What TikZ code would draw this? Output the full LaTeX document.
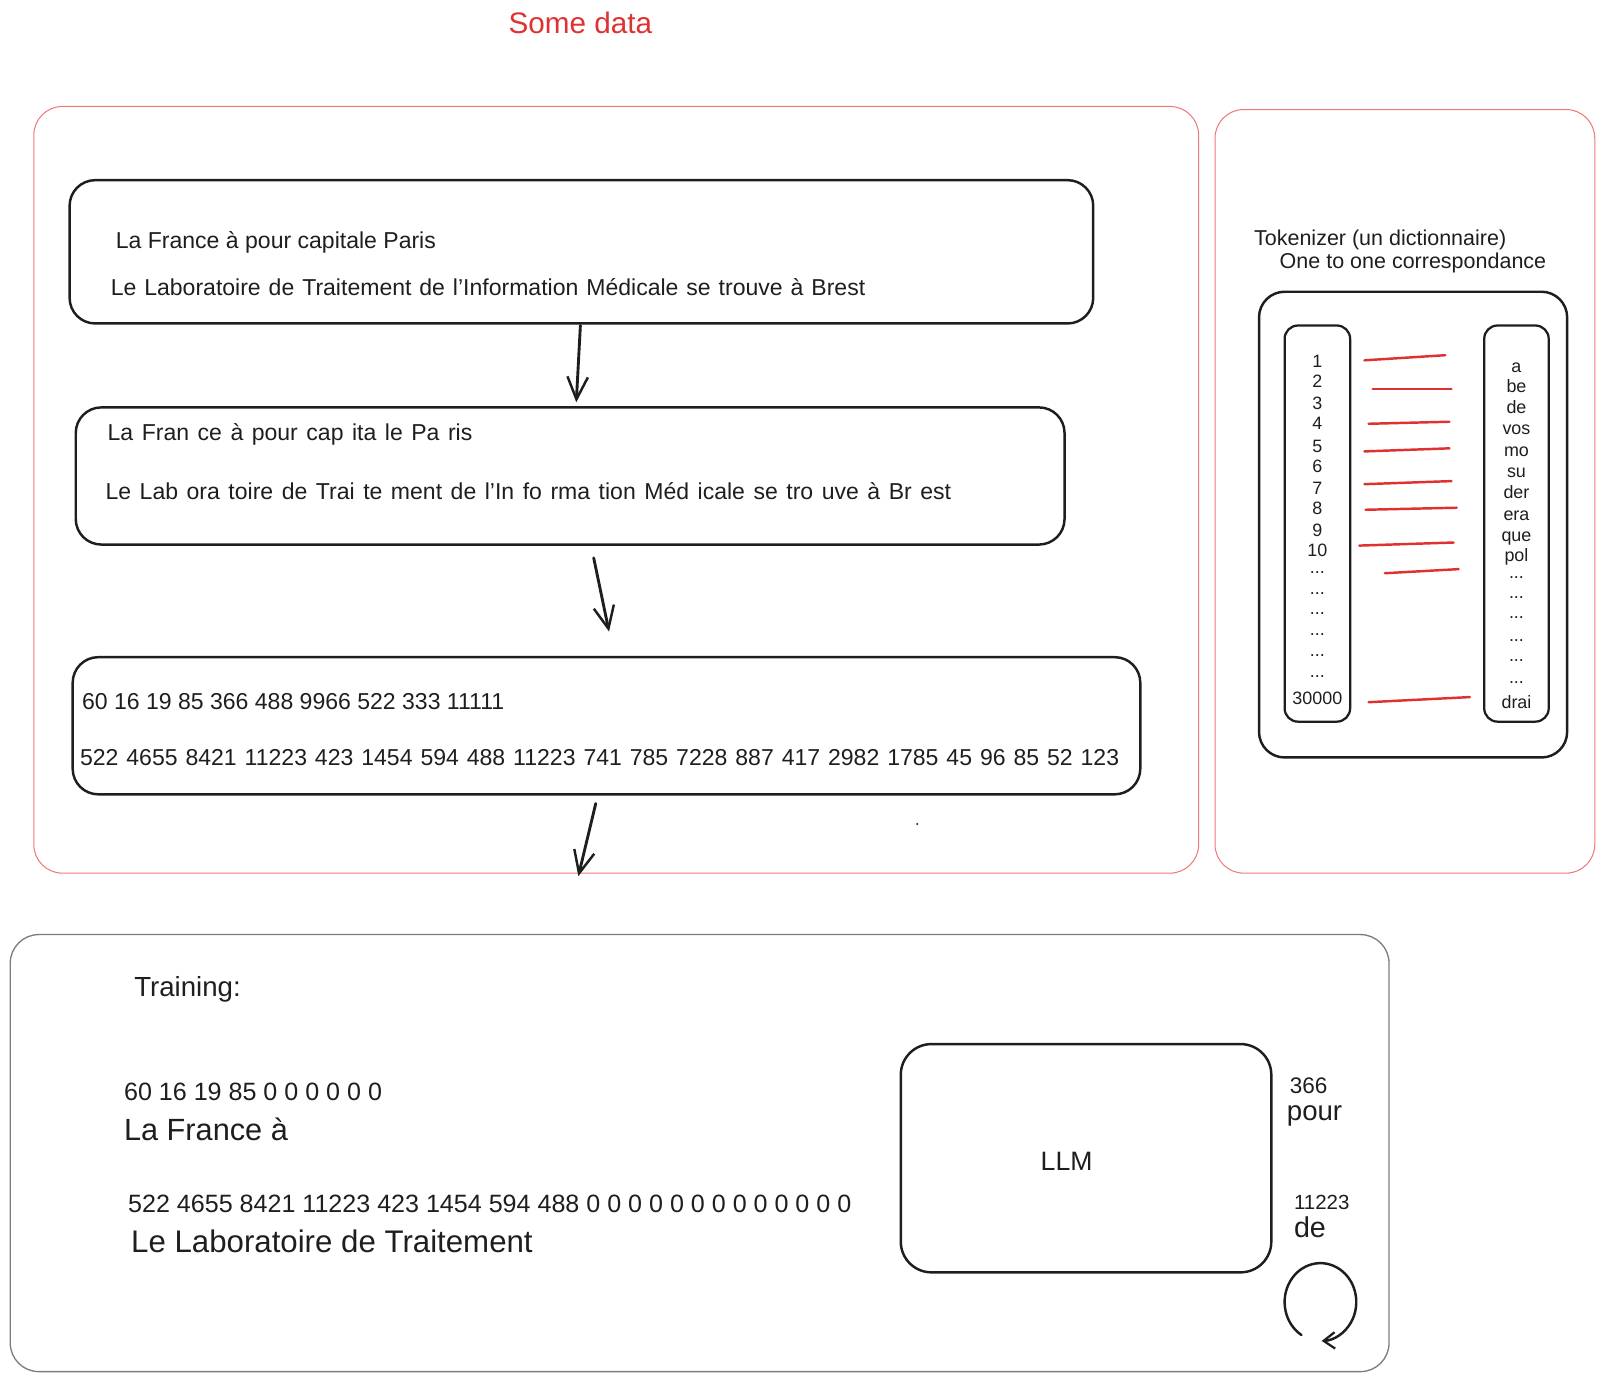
\documentclass[tikz,border=0pt]{standalone}
\usepackage{fontspec}
\setmainfont{Liberation Sans}
\usetikzlibrary{arrows.meta,calc}
\definecolor{exred}{HTML}{E03131}
\definecolor{framered}{RGB}{240,120,120}
\definecolor{ink}{HTML}{1E1E1E}
\definecolor{framegray}{RGB}{125,125,125}
\newcommand{\tdots}{...}
\newcommand{\widesp}{\spaceskip 0.345em\relax}
\newcommand{\widerp}{\spaceskip 0.37em\relax}
\begin{document}
\begin{tikzpicture}[x=1pt,y=-1pt,
  blackbox/.style={draw=ink, line width=2.4pt, rounded corners=25pt, inner sep=0, outer sep=0},
  colbox/.style={draw=ink, line width=2.2pt, rounded corners=13pt, inner sep=0, outer sep=0},
  redframe/.style={draw=framered, line width=1pt, rounded corners=28pt, inner sep=0, outer sep=0},
  txt/.style={inner sep=0, anchor=west, text height=1.4em, text depth=0.06em, text=ink},
  ctxt/.style={inner sep=0, anchor=center, text height=1.4em, text depth=0.06em, text=ink},
  arr/.style={draw=ink, line width=2.8pt, line cap=round, -{Straight Barb[length=22pt,width=20pt,line width=2.4pt]}},
  redl/.style={draw=exred, line width=2.4pt, line cap=round},
  fs/.style={font=\fontsize{#1}{#1}\selectfont},
  fsw/.style={font=\fontsize{#1}{#1}\selectfont\widesp},
  fsww/.style={font=\fontsize{#1}{#1}\selectfont\widerp},
]
\useasboundingbox (0,0) rectangle (1568,1350);

% title
\node[ctxt, fs=29, text=exred] (title) at (567,26) {Some data};

% frames
\node[redframe, minimum width=1138pt, minimum height=749pt] (fr1) at (602,478.5) {};
\node[redframe, minimum width=371pt, minimum height=746pt] (fr2) at (1372.5,480) {};
\node[draw=framegray, line width=1.3pt, rounded corners=28pt, inner sep=0, outer sep=0,
      minimum width=1347pt, minimum height=427pt] (fr3) at (683.5,1126.5) {};

% pipeline boxes
\node[blackbox, minimum width=1000pt, minimum height=140pt] (b1) at (568,246) {};
\node[blackbox, minimum width=966pt, minimum height=134pt] (b2) at (557,465) {};
\node[blackbox, minimum width=1043pt, minimum height=134pt] (b3) at (592.5,709) {};

\node[txt, fs=22.5] (t1a) at (113,236) {La France à pour capitale Paris};
\node[txt, fsw=22.5] (t1b) at (108,282) {Le Laboratoire de Traitement de l'Information Médicale se trouve à Brest};
\node[txt, fsww=22.5] (t2a) at (105,424) {La Fran ce à pour cap ita le Pa ris};
\node[txt, fsww=22.5] (t2b) at (103,481) {Le Lab ora toire de Trai te ment de l'In fo rma tion Méd icale se tro uve à Br est};
\node[txt, fs=22.5] (t3a) at (80,686) {60 16 19 85 366 488 9966 522 333 11111};
\node[txt, fsw=22.5] (t3b) at (78,741) {522 4655 8421 11223 423 1454 594 488 11223 741 785 7228 887 417 2982 1785 45 96 85 52 123};

\draw[arr] ($(b1.south)+(-1,2)$) -- ($(b2.north)+(6,-5)$);
\draw[arr] ($(b2.south)+(23,13)$) -- ($(b3.north)+(2.5,-25)$);
\draw[arr] ($(b3.south)+(-10.5,9)$) -- ($(fr1.south)+(-37,3)$);
\fill[ink] (896,805) circle[radius=1.1];

% tokenizer
\node[txt, fs=21] (tk1) at (1225,233) {Tokenizer (un dictionnaire)};
\node[txt, fs=21] (tk2) at (1250,256) {One to one correspondance};
\node[blackbox, minimum width=301pt, minimum height=455pt] (tok) at (1380.5,512.5) {};
\node[colbox, minimum width=64pt, minimum height=387pt] (colL) at (1287,511.5) {};
\node[colbox, minimum width=63pt, minimum height=387pt] (colR) at (1481.5,511.5) {};

\foreach \t/\y in {1/352,2/372,3/393,4/413,5/435,6/455,7/476,8/496,9/517,10/537,
  \tdots/554,\tdots/574,\tdots/594,\tdots/614,\tdots/635,\tdots/655,30000/682}
  \node[ctxt, fs=17.5] at (1287,\y) {\t};
\foreach \t/\y in {a/357,be/377,de/397,vos/418,mo/439,su/460,der/480,era/502,que/522,pol/542,
  \tdots/558,\tdots/578,\tdots/598,\tdots/620,\tdots/640,\tdots/661,drai/685}
  \node[ctxt, fs=17.5] at (1481.5,\y) {\t};

\foreach \xa/\ya/\xb/\yb in {14/352/-38/347, 22/380/-32/380, 18/414/-34/412, 14/441/-34/438,
  14/473/-32/470, 15/498/-27/496, 9/533/-30/530, 34/560/-25/556, 18/686/-14/681}
  \draw[redl] ($(colL.east|-0,\ya)+(\xa,0)$) -- ($(colR.west|-0,\yb)+(\xb,0)$);

% training
\node[txt, fs=27] (tr) at (131,967) {Training:};
\node[txt, fs=24.5] (bl1) at (121,1068) {60 16 19 85 0 0 0 0 0 0};
\node[txt, fs=30] (bl2) at (121,1107) {La France à};
\node[txt, fs=24.5] (bl3) at (125,1178) {522 4655 8421 11223 423 1454 594 488 0 0 0 0 0 0 0 0 0 0 0 0 0};
\node[txt, fs=30.5] (bl4) at (128,1217) {Le Laboratoire de Traitement};

\node[blackbox, rounded corners=30pt, minimum width=362pt, minimum height=223pt] (llm) at (1061,1131.5) {};
\node[ctxt, fs=26] (llmt) at (1042,1137) {LLM};

\node[txt, fs=22] (o1) at (1260,1062) {366};
\node[txt, fs=27] (o2) at (1257,1088) {pour};
\node[txt, fs=20] (o3) at (1264,1175) {11223};
\node[txt, fs=28] (o4) at (1264,1202) {de};

\coordinate (loopc) at (1290,1272);
\draw[draw=ink, line width=2.4pt, line cap=round, -{Straight Barb[length=11pt,width=16pt,line width=2.2pt]}]
  ($(loopc)+(122:35 and 38)$) arc[start angle=122, end angle=448, x radius=35, y radius=38];
\end{tikzpicture}
\end{document}
